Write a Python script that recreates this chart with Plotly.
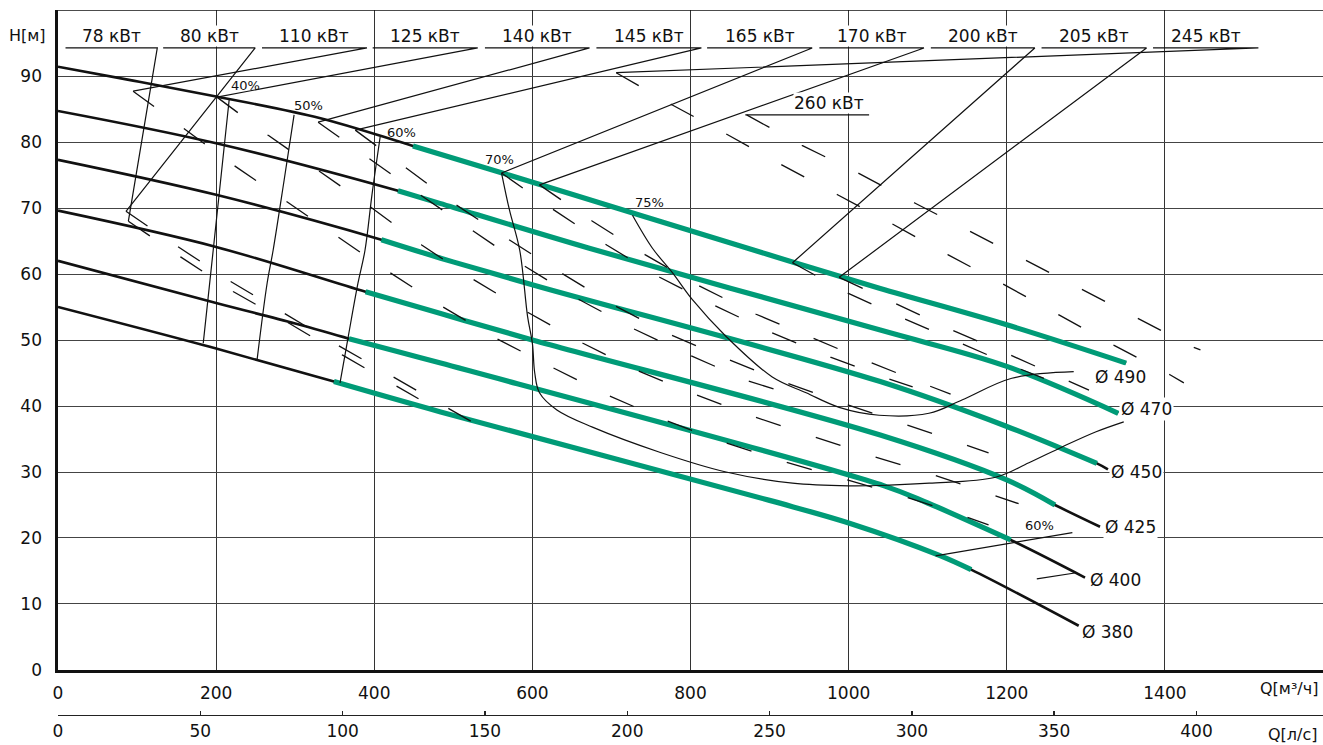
import plotly.graph_objects as go

FONT = "DejaVu Sans"
INK = "#111111"
GREEN = "#009B77"

# ---------------- impeller curves: Q [m3/h], H [m] ----------------
d490_q = [0, 95, 200, 332, 449, 562, 728, 859, 932, 1040, 1200, 1351]
d490_h = [91.4, 89.3, 86.9, 83.6, 79.4, 75.3, 69.2, 64.4, 61.7, 57.8, 52.3, 46.5]
d470_q = [0, 200, 430, 483, 672, 1040, 1200, 1341]
d470_h = [84.7, 79.8, 72.6, 70.7, 63.9, 51.5, 46.0, 38.9]
d450_q = [0, 200, 409, 484, 602, 1040, 1200, 1314, 1328]
d450_h = [77.3, 72.0, 65.2, 62.4, 58.3, 43.7, 36.9, 31.3, 30.4]
d425_q = [0, 200, 389, 484, 600, 1040, 1200, 1261, 1318]
d425_h = [69.6, 64.1, 57.3, 54.0, 50.0, 35.6, 28.8, 25.0, 21.7]
d400_q = [0, 200, 300, 368, 484, 1045, 1100, 1205, 1299]
d400_h = [62.0, 55.6, 52.5, 50.2, 46.5, 27.9, 25.3, 19.7, 14.0]
d380_q = [0, 200, 349, 484, 900, 1002, 1114, 1155, 1291]
d380_h = [55.0, 48.7, 43.7, 39.1, 25.7, 22.2, 17.4, 15.2, 6.7]

# operating range (green part) of each curve
green_lo = [449, 430, 409, 389, 368, 349]
green_hi = [1351, 1341, 1314, 1261, 1205, 1155]

diam_names = ["Ø 490", "Ø 470", "Ø 450", "Ø 425", "Ø 400", "Ø 380"]
diam_lab_q = [1344, 1377, 1364, 1356, 1337, 1327]
diam_lab_h = [44.4, 39.5, 30.0, 21.6, 13.6, 5.7]

# ---------------- efficiency curves ----------------
eff40_q = [216.5, 206.4, 196.3, 183.7]
eff40_h = [86.4, 75.0, 63.6, 49.5]
eff50_q = [298.6, 286.0, 272.1, 264.5, 251.9]
eff50_h = [84.1, 74.2, 63.6, 58.6, 47.1]
eff60_q = [407.5, 397.1, 388.3, 379.4, 366.8, 356.7]
eff60_h = [80.8, 72.0, 63.6, 58.6, 50.3, 43.5]
eff70_q = [561, 571, 584, 594, 600, 603, 609, 631, 676, 761, 845, 929, 1001, 1051, 1102, 1186, 1228, 1270, 1313, 1348]
eff70_h = [75.3, 69.7, 63.6, 53.5, 49.5, 45.0, 42.0, 39.4, 36.8, 33.0, 30.0, 28.3, 27.9, 28.0, 28.3, 29.2, 31.4, 33.8, 36.1, 37.6]
eff75_q = [726.6, 751.9, 777.1, 802.4, 845.3, 903.4, 946.3, 988.0, 1038.5, 1101.6, 1143.3, 1206.4, 1284.7]
eff75_h = [68.9, 63.9, 60.2, 56.1, 50.5, 44.4, 42.0, 39.8, 38.6, 38.9, 40.9, 44.2, 45.2]
eff60r_q = [1110, 1283]
eff60r_h = [17.3, 20.8]
eff60r2_q = [1238, 1286]
eff60r2_h = [13.8, 14.7]

eff_labels = ["40%", "50%", "60%", "70%", "75%", "60%"]
eff_lab_q = [237, 317, 435, 559, 748, 1241]
eff_lab_h = [88.6, 85.6, 81.5, 77.3, 70.9, 21.9]

# ---------------- power iso-lines (kW) ----------------
p78_q = [89, 155, 222, 290, 360, 429, 456]
p78_h = [68.0, 62.6, 57.3, 52.7, 47.7, 42.9, 41.1]
p80_q = [86, 151, 218, 285, 354, 424, 492, 522]
p80_h = [69.5, 64.2, 58.9, 54.1, 49.2, 44.4, 39.7, 37.7]
p110_q = [95, 158, 222, 290, 354, 420, 487, 555, 626, 698, 771, 845, 921, 997, 1073, 1146, 1177]
p110_h = [87.7, 82.1, 76.5, 70.9, 65.6, 60.2, 55.0, 50.2, 45.8, 41.5, 37.7, 34.4, 31.5, 28.8, 26.2, 23.3, 22.0]
p125_q = [201, 265, 328, 397, 460, 525, 594, 664, 734, 807, 882, 958, 1033, 1109, 1185, 1215]
p125_h = [86.8, 81.1, 75.8, 70.0, 64.4, 59.2, 54.2, 49.5, 45.3, 41.7, 38.3, 35.3, 32.3, 29.5, 26.4, 25.2]
p140_q = [329, 392, 458, 523, 590, 658, 728, 801, 873, 905]
p140_h = [83.0, 77.6, 72.0, 66.7, 61.2, 56.2, 51.7, 47.6, 43.8, 42.6]
p145_q = [376, 439, 502, 569, 636, 704, 773, 847, 921, 996, 1071, 1146, 1177]
p145_h = [81.8, 76.2, 70.6, 65.3, 60.2, 55.2, 50.9, 47.1, 43.5, 40.3, 37.3, 34.2, 32.9]
p165_q = [561, 626, 694, 761, 831, 903, 977, 1051, 1081]
p165_h = [75.3, 69.8, 64.4, 59.5, 55.2, 51.1, 47.4, 44.1, 42.9]
p170_q = [609, 676, 743, 811, 883, 956, 1030, 1103, 1129]
p170_h = [73.5, 68.0, 62.9, 58.2, 53.9, 50.2, 46.5, 43.0, 41.8]
p200_q = [929, 999, 1071, 1145, 1217, 1247]
p200_h = [61.7, 57.1, 53.2, 49.4, 45.6, 44.2]
p205_q = [988, 1059, 1131, 1205, 1277, 1304]
p205_h = [59.5, 55.5, 51.5, 47.7, 43.8, 42.4]
p245_q = [706, 777, 847, 916, 986, 1055, 1126, 1195, 1266, 1337, 1407, 1424]
p245_h = [90.5, 85.6, 81.1, 76.5, 72.0, 67.6, 62.9, 58.5, 53.8, 49.1, 44.7, 43.5]
p260_q = [871, 941, 1012, 1083, 1153, 1224, 1295, 1364, 1436, 1445]
p260_h = [84.1, 79.5, 75.3, 70.8, 66.5, 62.1, 57.7, 53.3, 48.9, 48.5]

kw_labels = ["78 кВт", "80 кВт", "110 кВт", "125 кВт", "140 кВт", "145 кВт",
             "165 кВт", "170 кВт", "200 кВт", "205 кВт", "245 кВт"]
kw_left_q = [9.5, 133, 258, 398, 540, 681, 821, 963, 1104, 1244, 1385]
kw_right_q = [125.6, 249.4, 390.8, 530.9, 672.3, 813.8, 953.9, 1095.3, 1235.5, 1376.8, 1518.3]
kw_line_h = 94.25
kw260_label = "260 кВт"
kw260_text_q = 975
kw260_left_q = 869.3
kw260_right_q = 1025.9
kw260_h = 84.1

# axes
q_ticks = [0, 200, 400, 600, 800, 1000, 1200, 1400]
ls_ticks = [0, 50, 100, 150, 200, 250, 300, 350, 400]
h_ticks = [0, 10, 20, 30, 40, 50, 60, 70, 80, 90]
Q_MAX = 1600
H_MAX = 100

fig = go.Figure()


def line(x, y, width, color=INK, dash="solid", shape="linear"):
    fig.add_trace(go.Scatter(x=x, y=y, mode="lines", hoverinfo="skip", showlegend=False,
                             line=dict(color=color, width=width, dash=dash, shape=shape)))


curves = [(d490_q, d490_h), (d470_q, d470_h), (d450_q, d450_h),
          (d425_q, d425_h), (d400_q, d400_h), (d380_q, d380_h)]

for (cq, ch) in curves:
    line(cq, ch, 2.6, shape="spline")
for (cq, ch), lo, hi in zip(curves, green_lo, green_hi):
    gq = [q for q in cq if lo <= q <= hi]
    gh = [h for q, h in zip(cq, ch) if lo <= q <= hi]
    line(gq, gh, 5.2, color=GREEN, shape="spline")

# efficiency curves
for eq, eh in [(eff40_q, eff40_h), (eff50_q, eff50_h), (eff60_q, eff60_h),
               (eff70_q, eff70_h), (eff75_q, eff75_h), (eff60r_q, eff60r_h),
               (eff60r2_q, eff60r2_h)]:
    line(eq, eh, 1.2, shape="spline")

# power iso-lines (dashed)
power_lines = [(p78_q, p78_h), (p80_q, p80_h), (p110_q, p110_h), (p125_q, p125_h),
               (p140_q, p140_h), (p145_q, p145_h), (p165_q, p165_h), (p170_q, p170_h),
               (p200_q, p200_h), (p205_q, p205_h), (p245_q, p245_h)]
for pq, ph in power_lines + [(p260_q, p260_h)]:
    line(pq, ph, 1.3, dash="26px,37px")

# label underlines and leader lines
for lq, rq, (pq, ph) in zip(kw_left_q, kw_right_q, power_lines):
    line([lq, rq, pq[0]], [kw_line_h, kw_line_h, ph[0]], 1.2)
line([kw260_left_q, kw260_right_q], [kw260_h, kw260_h], 1.2)

# dummy trace so that the l/s axis is drawn
fig.add_trace(go.Scatter(x=[0, Q_MAX / 3.6], y=[None, None], xaxis="x2", yaxis="y",
                         mode="lines", showlegend=False, hoverinfo="skip"))

ann = []
for t, lq, rq in zip(kw_labels, kw_left_q, kw_right_q):
    ann.append(dict(x=(lq + rq) / 2, y=kw_line_h + 0.12, xref="x", yref="y", text=t,
                    showarrow=False, xanchor="center", yanchor="bottom",
                    bgcolor="white", borderpad=0,
                    font=dict(family=FONT, size=17, color=INK)))
ann.append(dict(x=kw260_text_q, y=kw260_h + 0.12, xref="x", yref="y", text=kw260_label,
                showarrow=False, xanchor="center", yanchor="bottom", bgcolor="white",
                borderpad=0, font=dict(family=FONT, size=17, color=INK)))
for t, q, h in zip(eff_labels, eff_lab_q, eff_lab_h):
    ann.append(dict(x=q, y=h, xref="x", yref="y", text=t, showarrow=False,
                    font=dict(family=FONT, size=13, color=INK)))
for t, q, h in zip(diam_names, diam_lab_q, diam_lab_h):
    ann.append(dict(x=q, y=h, xref="x", yref="y", text=t, showarrow=False,
                    bgcolor="white", borderpad=1,
                    font=dict(family=FONT, size=17, color=INK)))

ann.append(dict(x=-0.0079, y=0.9644, xref="paper", yref="paper", text="H[м]",
                showarrow=False, xanchor="right", yanchor="middle",
                font=dict(family=FONT, size=16, color=INK)))
ann.append(dict(x=0.9976, y=0.0712, xref="paper", yref="paper", text="Q[м³/ч]",
                showarrow=False, xanchor="right", yanchor="middle",
                font=dict(family=FONT, size=16, color=INK)))
ann.append(dict(x=0.9976, y=0.0075, xref="paper", yref="paper", text="Q[л/с]",
                showarrow=False, xanchor="right", yanchor="middle",
                font=dict(family=FONT, size=16, color=INK)))

tickfont = dict(family=FONT, size=17, color=INK)

fig.update_layout(
    width=1323, height=745,
    margin=dict(l=58, r=0, t=10, b=5, autoexpand=False),
    plot_bgcolor="white", paper_bgcolor="white",
    showlegend=False,
    annotations=ann,
    xaxis=dict(range=[0, Q_MAX], tickvals=q_ticks, ticktext=[str(v) for v in q_ticks],
               showgrid=True, gridcolor="#333333", gridwidth=1,
               showline=True, linecolor=INK, linewidth=2.6, zeroline=False,
               ticks="outside", ticklen=6, tickcolor="rgba(0,0,0,0)",
               tickfont=tickfont, anchor="y", automargin=False),
    yaxis=dict(range=[0, H_MAX], domain=[0.0959, 1], tickvals=h_ticks,
               showgrid=True, gridcolor="#444444", gridwidth=1,
               showline=True, linecolor=INK, linewidth=2.6, zeroline=False,
               ticks="outside", ticklen=10, tickcolor="rgba(0,0,0,0)",
               tickfont=tickfont, automargin=False),
    xaxis2=dict(range=[0, Q_MAX / 3.6], overlaying="x", anchor="free", position=0.0349,
                side="bottom", tickvals=ls_ticks, showgrid=False, zeroline=False,
                showline=True, linecolor="#222222", linewidth=1.8,
                ticks="inside", ticklen=4, tickwidth=1.5, tickcolor="#222222",
                tickfont=tickfont, automargin=False),
    shapes=[dict(type="line", xref="x domain", yref="y", x0=0, x1=1, y0=H_MAX, y1=H_MAX,
                 line=dict(color=INK, width=1.6))],
)

# remove the default page margin so the figure fills the 1323x745 window exactly
fig.write_html("out.html",
               config={"displayModeBar": False, "staticPlot": True},
               post_script="document.body.style.margin='0';document.body.style.overflow='hidden';")
